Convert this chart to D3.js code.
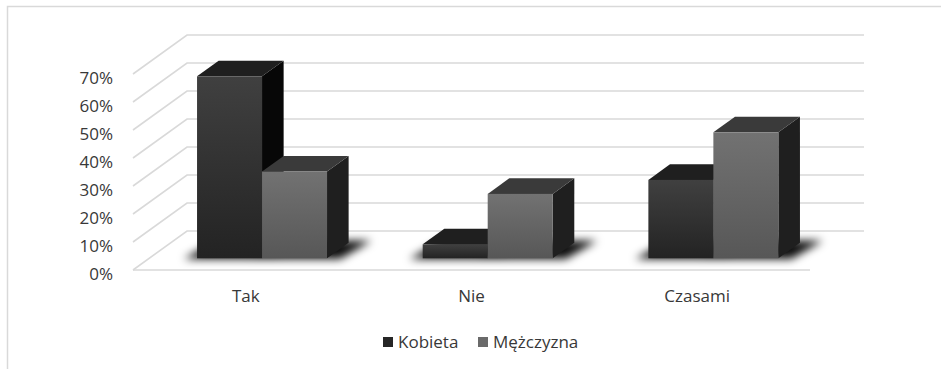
<!DOCTYPE html>
<html><head><meta charset="utf-8">
<script src="https://cdn.jsdelivr.net/npm/d3@7"></script>
<style>body{margin:0;background:#fff}svg{display:block}text{font-family:"Open Sans",sans-serif;fill:#383838}</style>
</head><body>
<svg id="c" width="941" height="369"></svg>
<script>
const categories = ["Tak", "Nie", "Czasami"];
const seriesNames = ["Kobieta", "Mężczyzna"];
const kobieta = [65, 5, 28];
const mezczyzna = [31, 23, 45];
const yTicks = [0, 10, 20, 30, 40, 50, 60, 70];
const yTickLabels = ["0%", "10%", "20%", "30%", "40%", "50%", "60%", "70%"];

const svg = d3.select("#c");
const DX = 54, DY = -39;            // floor depth offset
const D0 = 0.3, D1 = 0.7;           // bar depth span
const x = d3.scaleBand(categories, [133, 810]).paddingInner(0.424).paddingOuter(0.212);
const xs = d3.scaleBand(seriesNames, [0, x.bandwidth()]);
const y = d3.scaleLinear([0, 70], [270, 74]);
const proj = (xv, v, d) => [xv + d * DX, y(v) + d * DY];
const pts = a => a.map(p => p.join(",")).join(" ");

const defs = svg.append("defs");
defs.append("filter").attr("id", "blur").attr("x", "-50%").attr("y", "-50%").attr("width", "200%").attr("height", "200%")
  .append("feGaussianBlur").attr("stdDeviation", 4);
const styles = {
  "Kobieta": {top: "#1f1f1f", side: "#070707", g0: "#404040", g1: "#232323", legend: "#262626"},
  "Mężczyzna": {top: "#3a3a3a", side: "#1f1f1f", g0: "#727272", g1: "#575757", legend: "#6a6a6a"}
};
seriesNames.forEach((s, i) => {
  const g = defs.append("linearGradient").attr("id", "g" + i).attr("x1", 0).attr("y1", 0).attr("x2", 0).attr("y2", 1);
  g.append("stop").attr("offset", 0).attr("stop-color", styles[s].g0);
  g.append("stop").attr("offset", 1).attr("stop-color", styles[s].g1);
});

// frame
svg.append("rect").attr("x", 7.5).attr("y", 6.5).attr("width", 1000).attr("height", 500)
  .attr("fill", "none").attr("stroke", "#d9d9d9").attr("stroke-width", 1.5);

// grid
const [fx0, fx1] = x.range();
const grid = svg.append("g").attr("stroke", "#d9d9d9").attr("stroke-width", 1.6).attr("fill", "none");
yTicks.forEach(t => {
  const a = proj(fx0, t, 0), b = proj(fx0, t, 1), c = proj(fx1, t, 1);
  grid.append("polyline").attr("points", pts([a, b, c]));
});
grid.append("line").attr("x1", proj(fx0, 0, 0)[0]).attr("y1", proj(fx0, 0, 0)[1])
  .attr("x2", proj(fx1, 0, 0)[0]).attr("y2", proj(fx1, 0, 0)[1]);

// y labels
svg.append("g").selectAll("text").data(yTicks).join("text")
  .attr("x", 113).attr("y", t => y(t) + 10).attr("text-anchor", "end")
  .attr("font-size", 17).text((t, i) => yTickLabels[i]);

// data
const data = [];
categories.forEach((c, ci) => {
  seriesNames.forEach((s, si) => {
    data.push({c, s, si, v: (si === 0 ? kobieta : mezczyzna)[ci]});
  });
});

// shadows
svg.append("g").attr("filter", "url(#blur)").selectAll("polygon").data(data).join("polygon")
  .attr("fill", "#000").attr("opacity", 0.95)
  .attr("points", d => {
    const x0 = x(d.c) + xs(d.s) - 12, x1 = x(d.c) + xs(d.s) + xs.bandwidth() + 14;
    return pts([proj(x0, 0, D0 - 0.02), proj(x1, 0, D0 - 0.02), proj(x1 + 6, 0, D1 + 0.05), proj(x0 + 6, 0, D1 + 0.05)]);
  });

// bars
const bars = svg.append("g").selectAll("g").data(data).join("g");
bars.each(function(d) {
  const g = d3.select(this);
  const x0 = x(d.c) + xs(d.s), x1 = x0 + xs.bandwidth();
  const st = styles[d.s];
  // side
  g.append("polygon").attr("fill", st.side)
    .attr("points", pts([proj(x1, 0, D0), proj(x1, d.v, D0), proj(x1, d.v, D1), proj(x1, 0, D1)]));
  // top
  g.append("polygon").attr("fill", st.top)
    .attr("points", pts([proj(x0, d.v, D0), proj(x1, d.v, D0), proj(x1, d.v, D1), proj(x0, d.v, D1)]));
  // front
  const p0 = proj(x0, d.v, D0), p1 = proj(x1, 0, D0);
  g.append("rect").attr("x", p0[0]).attr("y", p0[1]).attr("width", p1[0] - p0[0]).attr("height", p1[1] - p0[1])
    .attr("fill", `url(#g${d.si})`);
});

// category labels
svg.append("g").selectAll("text").data(categories).join("text")
  .attr("x", c => x(c) + x.bandwidth() / 2).attr("y", 302).attr("text-anchor", "middle")
  .attr("font-size", 17).text(c => c);

// legend
const lx = [383, 478];
const lg = svg.append("g").selectAll("g").data(seriesNames).join("g");
lg.append("rect").attr("x", (s, i) => lx[i]).attr("y", 337).attr("width", 10).attr("height", 10)
  .attr("fill", s => styles[s].legend);
lg.append("text").attr("x", (s, i) => lx[i] + 15).attr("y", 348).attr("font-size", 17).text(s => s);
</script>
</body></html>
